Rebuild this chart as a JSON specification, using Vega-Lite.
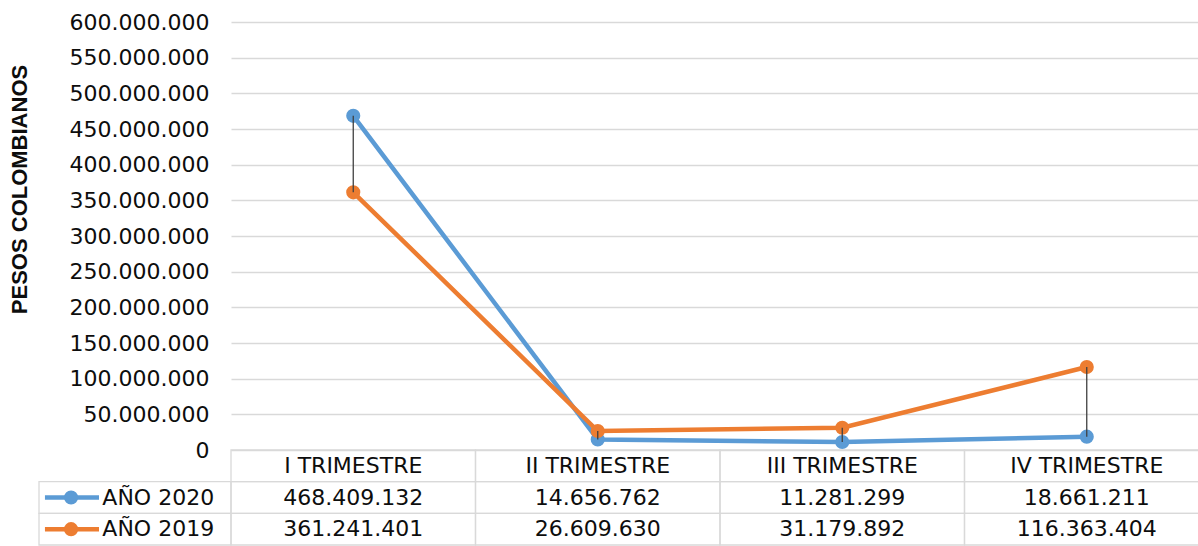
{
  "$schema": "https://vega.github.io/schema/vega-lite/v6.json",
  "padding": {"left": 8, "top": 11, "right": 0, "bottom": 0},
  "autosize": {"type": "pad"},
  "background": "#ffffff",
  "datasets": {
    "ventas": [
      {"q": "I TRIMESTRE", "serie": "AÑO 2020", "value": 468409132},
      {"q": "II TRIMESTRE", "serie": "AÑO 2020", "value": 14656762},
      {"q": "III TRIMESTRE", "serie": "AÑO 2020", "value": 11281299},
      {"q": "IV TRIMESTRE", "serie": "AÑO 2020", "value": 18661211},
      {"q": "I TRIMESTRE", "serie": "AÑO 2019", "value": 361241401},
      {"q": "II TRIMESTRE", "serie": "AÑO 2019", "value": 26609630},
      {"q": "III TRIMESTRE", "serie": "AÑO 2019", "value": 31179892},
      {"q": "IV TRIMESTRE", "serie": "AÑO 2019", "value": 116363404}
    ],
    "trimestres": [
      {"q": "I TRIMESTRE"},
      {"q": "II TRIMESTRE"},
      {"q": "III TRIMESTRE"},
      {"q": "IV TRIMESTRE"}
    ],
    "series": [
      {"serie": "AÑO 2020"},
      {"serie": "AÑO 2019"}
    ]
  },
  "columns": 2,
  "spacing": 0,
  "bounds": "flush",
  "concat": [
    {
      "width": 192,
      "height": 428,
      "data": {"values": []},
      "mark": "point",
      "encoding": {}
    },
    {
      "width": 966,
      "height": 428,
      "data": {"name": "ventas"},
      "encoding": {
        "x": {
          "field": "q",
          "type": "nominal",
          "scale": {"domain": ["I TRIMESTRE", "II TRIMESTRE", "III TRIMESTRE", "IV TRIMESTRE"], "range": [0, 978], "paddingInner": 0, "paddingOuter": 0},
          "axis": null
        },
        "y": {"field": "value", "type": "quantitative", "title": "PESOS COLOMBIANOS",
          "scale": {"domain": [0, 600000000], "nice": false, "zero": true},
          "axis": {
            "values": [0, 50000000, 100000000, 150000000, 200000000, 250000000, 300000000, 350000000, 400000000, 450000000, 500000000, 550000000, 600000000],
            "format": ",d",
            "labelOverlap": false,
            "grid": true, "gridColor": "#d9d9d9", "gridWidth": 1.3,
            "domain": false, "ticks": false,
            "labelPadding": 22, "labelFontSize": 22, "labelColor": "#0d0d0d", "labelFont": "DejaVu Sans",
            "titleFont": "Liberation Sans", "titleFontSize": 22, "titleFontWeight": "bold", "titleColor": "#0d0d0d",
            "titlePadding": 38, "titleY": 167, "titleAlign": "center", "titleAnchor": null
          }
        }
      },
      "layer": [
        {
          "mark": {"type": "line", "strokeWidth": 4.5},
          "encoding": {
            "color": {"field": "serie", "type": "nominal", "scale": {"domain": ["AÑO 2020", "AÑO 2019"], "range": ["#5b9bd5", "#ed7d31"]}, "legend": null}
          }
        },
        {
          "mark": {"type": "point", "filled": true, "size": 200, "opacity": 1},
          "encoding": {
            "color": {"field": "serie", "type": "nominal", "legend": null}
          }
        },
        {
          "mark": {"type": "rule", "color": "#404040", "strokeWidth": 1.3},
          "encoding": {
            "y": {"aggregate": "min", "field": "value", "type": "quantitative", "title": "PESOS COLOMBIANOS"},
            "y2": {"aggregate": "max", "field": "value"}
          }
        }
      ]
    },
    {
      "width": 192,
      "height": 95,
      "data": {"name": "series"},
      "encoding": {
        "y": {"field": "serie", "type": "nominal", "scale": {"domain": ["hdr", "AÑO 2020", "AÑO 2019"], "paddingInner": 0, "paddingOuter": 0}, "axis": null}
      },
      "layer": [
        {
          "mark": {"type": "rect", "fillOpacity": 0, "stroke": "#d9d9d9", "strokeWidth": 1.3},
          "encoding": {
            "x": {"datum": 0, "type": "quantitative", "scale": {"domain": [0, 1]}, "axis": null},
            "x2": {"datum": 1}
          }
        },
        {
          "mark": {"type": "rule", "strokeWidth": 4.5},
          "encoding": {
            "x": {"datum": 0.031, "type": "quantitative"},
            "x2": {"datum": 0.3125},
            "color": {"field": "serie", "type": "nominal", "legend": null}
          }
        },
        {
          "mark": {"type": "point", "filled": true, "size": 200, "opacity": 1},
          "encoding": {
            "x": {"datum": 0.167, "type": "quantitative"},
            "color": {"field": "serie", "type": "nominal", "legend": null}
          }
        },
        {
          "mark": {"type": "text", "align": "left", "fontSize": 22, "color": "#0d0d0d"},
          "encoding": {
            "x": {"datum": 0.33, "type": "quantitative"},
            "text": {"field": "serie"}
          }
        }
      ]
    },
    {
      "width": 966,
      "height": 95,
      "encoding": {
        "x": {
          "field": "q",
          "type": "nominal",
          "scale": {"domain": ["I TRIMESTRE", "II TRIMESTRE", "III TRIMESTRE", "IV TRIMESTRE"], "range": [0, 978], "paddingInner": 0, "paddingOuter": 0},
          "axis": null
        }
      },
      "layer": [
        {
          "data": {"name": "trimestres"},
          "mark": {"type": "rect", "fillOpacity": 0, "stroke": "#d9d9d9", "strokeWidth": 1.3},
          "encoding": {
            "y": {"datum": "hdr", "type": "nominal", "scale": {"domain": ["hdr", "AÑO 2020", "AÑO 2019"], "paddingInner": 0, "paddingOuter": 0}, "axis": null}
          }
        },
        {
          "data": {"name": "trimestres"},
          "mark": {"type": "text", "fontSize": 22, "color": "#0d0d0d"},
          "encoding": {
            "y": {"datum": "hdr", "type": "nominal"},
            "text": {"field": "q"}
          }
        },
        {
          "data": {"name": "ventas"},
          "mark": {"type": "rect", "fillOpacity": 0, "stroke": "#d9d9d9", "strokeWidth": 1.3},
          "encoding": {
            "y": {"field": "serie", "type": "nominal"}
          }
        },
        {
          "data": {"name": "ventas"},
          "mark": {"type": "text", "fontSize": 22, "color": "#0d0d0d"},
          "encoding": {
            "y": {"field": "serie", "type": "nominal"},
            "text": {"field": "value", "type": "quantitative", "format": ",d"}
          }
        }
      ]
    }
  ],
  "config": {
    "view": {"stroke": null},
    "font": "DejaVu Sans",
    "locale": {"number": {"decimal": ",", "thousands": ".", "grouping": [3], "currency": ["$", ""]}}
  }
}
